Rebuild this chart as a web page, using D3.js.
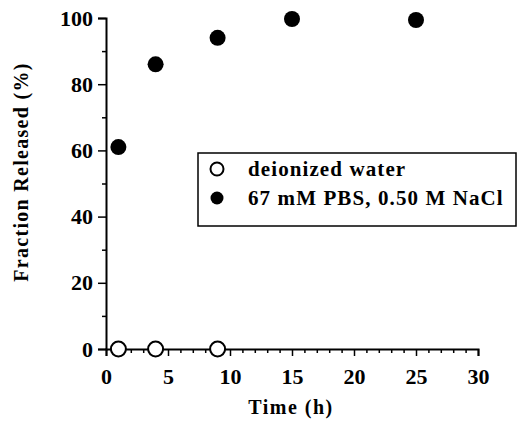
<html>
<head>
<script src="https://d3js.org/d3.v7.min.js"></script>
<style>
  body { margin: 0; background: white; }
  text { font-family: "Liberation Serif", "DejaVu Serif", serif; font-weight: bold; }
</style>
</head>
<body>
<svg id="chart" width="518" height="425"></svg>
<script>

// release data, time in hours vs fraction released in percent
var waterTime = [1, 4, 9];
var waterRelease = [0, 0, 0];
var saltTime = [1, 4, 9, 15, 25];
var saltRelease = [61, 86, 94, 99.7, 99.4];

var xTicks = [0, 5, 10, 15, 20, 25, 30];
var yTicks = [0, 20, 40, 60, 80, 100];

var seriesNames = ["deionized water", "67 mM PBS, 0.50 M NaCl"];

var svg = d3.select("#chart");

var x = d3.scaleLinear().domain([0, 30]).range([106, 478]);
var y = d3.scaleLinear().domain([0, 100]).range([349, 18]);

// y axis: major ticks every 20, minor every 10
var yAxis = svg.append("g")
  .attr("transform", "translate(106,0)")
  .call(d3.axisLeft(y).tickValues(yTicks).tickSize(8).tickPadding(5));

svg.append("g")
  .attr("transform", "translate(106,0)")
  .call(d3.axisLeft(y).tickValues(d3.range(10, 100, 20)).tickSize(4).tickFormat(""))
  .select(".domain").remove();

// x axis: major every 5 h, minor every hour
var xAxis = svg.append("g")
  .attr("transform", "translate(0,349)")
  .call(d3.axisBottom(x).tickValues(xTicks).tickSize(7).tickPadding(12));

svg.append("g")
  .attr("transform", "translate(0,349)")
  .call(d3.axisBottom(x).tickValues(d3.range(0, 31).filter(function(d) { return d % 5 != 0; })).tickSize(4).tickFormat(""))
  .select(".domain").remove();

svg.selectAll(".domain").attr("stroke", "black").attr("stroke-width", 2);
svg.selectAll(".tick line").attr("stroke", "black").attr("stroke-width", 1.5);
svg.selectAll(".tick text")
  .attr("fill", "black")
  .style("font-size", "22px")
  .style("font-family", "Liberation Serif, serif")
  .style("font-weight", "bold");

// axis titles
svg.append("text")
  .attr("x", 291)
  .attr("y", 414)
  .attr("text-anchor", "middle")
  .style("font-size", "20px")
  .style("letter-spacing", "1.5px")
  .text("Time (h)");

svg.append("text")
  .attr("transform", "translate(28,172) rotate(-90)")
  .attr("text-anchor", "middle")
  .style("font-size", "20px")
  .style("letter-spacing", "1.3px")
  .text("Fraction Released (%)");

// filled circles: buffered salt solution
svg.selectAll(".salt")
  .data(saltTime)
  .enter().append("circle")
  .attr("class", "salt")
  .attr("cx", function(d) { return x(d); })
  .attr("cy", function(d, i) { return y(saltRelease[i]); })
  .attr("r", 8)
  .attr("fill", "black");

// open circles: deionized water
svg.selectAll(".water")
  .data(waterTime)
  .enter().append("circle")
  .attr("class", "water")
  .attr("cx", function(d) { return x(d); })
  .attr("cy", function(d, i) { return y(waterRelease[i]); })
  .attr("r", 7.5)
  .attr("fill", "white")
  .attr("stroke", "black")
  .attr("stroke-width", 2);

// legend
var legend = svg.append("g");
legend.append("rect")
  .attr("x", 198).attr("y", 153)
  .attr("width", 318).attr("height", 73)
  .attr("fill", "white")
  .attr("stroke", "black")
  .attr("stroke-width", 1.5);

legend.selectAll(".key")
  .data(seriesNames)
  .enter().append("circle")
  .attr("cx", 217)
  .attr("cy", function(d, i) { return 169 + i * 29; })
  .attr("r", 6.5)
  .attr("fill", function(d, i) { return i == 0 ? "white" : "black"; })
  .attr("stroke", "black")
  .attr("stroke-width", function(d, i) { return i == 0 ? 2 : 0; });

legend.selectAll(".label")
  .data(seriesNames)
  .enter().append("text")
  .attr("x", 248)
  .attr("y", function(d, i) { return 176 + i * 29; })
  .style("font-size", "21px")
  .style("letter-spacing", "1.1px")
  .text(function(d) { return d; });

</script>
</body>
</html>
